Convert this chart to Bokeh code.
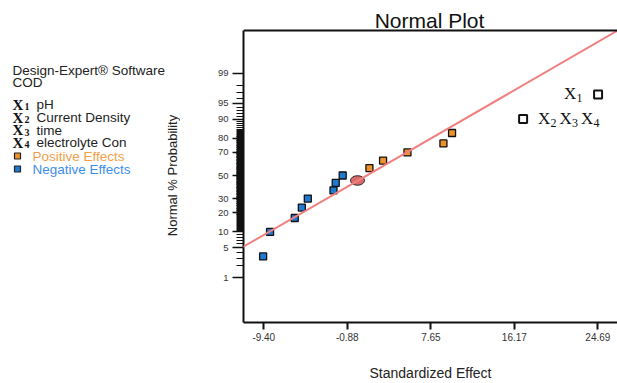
from statistics import NormalDist
from math import pi
from bokeh.plotting import figure
from bokeh.layouts import row
from bokeh.models import (Range1d, LinearAxis, FixedTicker, CustomJSTickFormatter, Label,
                          Slope, Span)
from bokeh.embed import file_html
from bokeh.resources import INLINE

# ---------------- data ----------------
neg_effects = [-9.47, -8.76, -6.24, -5.52, -4.91, -2.29, -2.06, -1.35]
neg_probs = [3.3, 10.0, 16.7, 23.3, 30.0, 36.7, 43.3, 50.0]
pos_effects = [1.38, 2.77, 5.26, 8.93, 9.81]
pos_probs = [56.7, 63.3, 70.0, 76.7, 83.3]
named_terms = ["X2X3X4", "X1"]
named_effects = [17.06, 24.71]
named_probs = [90.0, 96.7]
center_effect = [0.16]
center_prob = [45.5]
fit_intercept_z = -0.141
fit_slope_z = 0.1286
x_ticks = [-9.40, -0.88, 7.65, 16.17, 24.69]
x_tick_labels = ["-9.40", "-0.88", "7.65", "16.17", "24.69"]
y_major_probs = [1, 5, 10, 20, 30, 50, 70, 80, 90, 95, 99]
factor_symbols = ["1", "2", "3", "4"]
factor_names = ["pH", "Current Density", "time", "electrolyte Con"]

nd = NormalDist()
def z(p):
    return nd.inv_cdf(p / 100.0)

# ---------------- layout (page pixels) ----------------
PAGE_W, PAGE_H = 617, 383
SIDE_W = 180
L, R, T, B = 243, 617, 30, 322     # plot frame box
FT = 0                             # figure frame extends to the top (title drawn inside)
x0 = -9.40 - (263.3 - L) / 9.80
x1 = -9.40 + (R - 263.3) / 9.80
y1 = (175 - FT) / 44.0
y0 = (175 - B) / 44.0

def X(px):
    return x0 + (px - L) * (x1 - x0) / (R - L)

def Y(py):
    return y1 - (py - FT) * (y1 - y0) / (B - FT)

sans = "Liberation Sans"
serif = "Liberation Serif"

# ---------------- main plot ----------------
p = figure(width=PAGE_W - SIDE_W, height=PAGE_H, x_range=Range1d(x0, x1), y_range=Range1d(y0, y1),
           output_backend="svg", toolbar_location=None,
           x_axis_type=None, y_axis_type=None,
           min_border_left=L - SIDE_W, min_border_right=0,
           min_border_top=0, min_border_bottom=PAGE_H - B)
p.outline_line_color = None
p.background_fill_color = "white"
p.border_fill_color = "white"

xax = LinearAxis(ticker=FixedTicker(ticks=x_ticks, minor_ticks=[]),
                 major_label_overrides={t: s for t, s in zip(x_ticks, x_tick_labels)})
xax.axis_line_width = 2
xax.axis_line_color = "#111"
xax.major_tick_in = 0
xax.major_tick_out = 7
xax.major_tick_line_width = 2
xax.major_tick_line_color = "#111"
xax.minor_tick_line_color = None
xax.major_label_text_font = sans
xax.major_label_text_font_size = "10px"
xax.major_label_text_color = "#333"
xax.major_label_standoff = 3
xax.axis_label = "Standardized Effect"
xax.axis_label_text_font = sans
xax.axis_label_text_font_size = "14px"
xax.axis_label_text_font_style = "normal"
xax.axis_label_text_color = "#222"
xax.axis_label_standoff = 21
p.add_layout(xax, "below")

minor_probs = [2, 3, 4, 6, 7, 8, 9]
q = 10.5
while q < 85.01:
    if q not in y_major_probs:
        minor_probs.append(q)
    q += 0.5
minor_probs += [86, 87, 88, 89, 91, 92, 93, 94, 96, 97, 98]
y_major_z = [z(v) for v in y_major_probs]
yax = LinearAxis(ticker=FixedTicker(ticks=y_major_z, minor_ticks=[z(v) for v in minor_probs]),
                 formatter=CustomJSTickFormatter(
                     args=dict(tvals=y_major_z, tlabels=[str(v) for v in y_major_probs]),
                     code="""
let best = 0, bd = 1e9;
for (let i = 0; i < tvals.length; i++) {
  const d = Math.abs(tvals[i] - tick);
  if (d < bd) { bd = d; best = i; }
}
return tlabels[best];
"""))
yax.bounds = (y0, Y(T))
yax.axis_line_width = 2
yax.axis_line_color = "#111"
yax.major_tick_in = 0
yax.major_tick_out = 11
yax.major_tick_line_width = 1.5
yax.major_tick_line_color = "#111"
yax.minor_tick_in = 0
yax.minor_tick_out = 7
yax.minor_tick_line_width = 1
yax.minor_tick_line_color = "#111"
yax.major_label_text_font = sans
yax.major_label_text_font_size = "9.5px"
yax.major_label_text_color = "#333"
yax.major_label_standoff = 4
p.add_layout(yax, "left")

# fitted line, kept inside the box by a white cover above the box top
p.add_layout(Slope(gradient=fit_slope_z, y_intercept=fit_intercept_z,
                   line_color="#f08080", line_width=2))
p.quad(left=[x0], right=[x1], bottom=[Y(T - 1)], top=[y1], fill_color="white",
       line_color=None)
# top border of the plot box
p.add_layout(Span(location=Y(T), dimension="width", line_color="#111", line_width=2))

# points
p.scatter(neg_effects, [z(v) for v in neg_probs], marker="square", size=7,
          fill_color="#1f7ad2", line_color="#111", line_width=1.3)
p.scatter(pos_effects, [z(v) for v in pos_probs], marker="square", size=7,
          fill_color="#ec922c", line_color="#111", line_width=1.3)
p.ellipse(center_effect, [z(v) for v in center_prob], width=14, height=9.5,
          width_units="screen", height_units="screen",
          fill_color="#d96b6b", line_color="#222", line_width=1)
p.scatter(named_effects, [z(v) for v in named_probs], marker="square", size=8,
          fill_color="white", line_color="#111", line_width=2)

for term, ex, pr in zip(named_terms, named_effects, named_probs):
    digits = term[1::2]
    pair_w = 21.4
    start_dx = -34.0 if term == "X1" else 15.0
    for k, d in enumerate(digits):
        p.add_layout(Label(x=ex, y=z(pr), x_offset=start_dx + k * pair_w, y_offset=1,
                           text="X", text_font=serif, text_font_size="17px",
                           text_color="#111", text_baseline="middle", text_align="left"))
        p.add_layout(Label(x=ex, y=z(pr), x_offset=start_dx + k * pair_w + 12.5, y_offset=-3.5,
                           text=d, text_font=serif, text_font_size="12px",
                           text_color="#111", text_baseline="middle", text_align="left"))

p.add_layout(Label(x=X(429), y=Y(20), text="Normal Plot", text_font=sans,
                   text_font_size="21px", text_color="#111", text_align="center",
                   text_baseline="middle"))

# ---------------- left information panel ----------------
# (its frame is aligned with the main frame, which spans page rows 0..B)
s = figure(width=SIDE_W, height=PAGE_H, x_range=Range1d(0, SIDE_W), y_range=Range1d(B, 0),
           output_backend="svg", toolbar_location=None, x_axis_type=None, y_axis_type=None,
           min_border=0)
s.outline_line_color = None
s.background_fill_color = "white"
s.border_fill_color = "white"

def lab(fig, x, y, text, font=sans, size="13.5px", color="#222", style="normal",
        align="left", angle=0.0):
    fig.add_layout(Label(x=x, y=y, text=text, text_font=font, text_font_size=size,
                         text_color=color, text_font_style=style, text_align=align,
                         text_baseline="middle", angle=angle))

lab(s, 12, 70, "Design-Expert\u00ae Software")
lab(s, 12, 81.5, "COD")
row_y = [104, 117, 129.5, 142]
for sym, name, ry in zip(factor_symbols, factor_names, row_y):
    lab(s, 12, ry, "X", font=serif, size="15px", color="#111", style="bold")
    lab(s, 24, ry + 2, sym, font=serif, size="10px", color="#111", style="bold")
    lab(s, 36, ry, name)
legend_items = [("Positive Effects", "#ec922c", "#f0a04c", 155.5),
                ("Negative Effects", "#1f7ad2", "#3c8ee8", 168.5)]
for txt, fill, tcol, ry in legend_items:
    s.scatter([17], [ry], marker="square", size=6, fill_color=fill, line_color="#222",
              line_width=1.2)
    lab(s, 32, ry, txt, color=tcol)
lab(s, 172, 175, "Normal % Probability", size="13px", align="center", angle=pi / 2)

layout = row(s, p)
open("out.html", "w").write(file_html(layout, INLINE))
